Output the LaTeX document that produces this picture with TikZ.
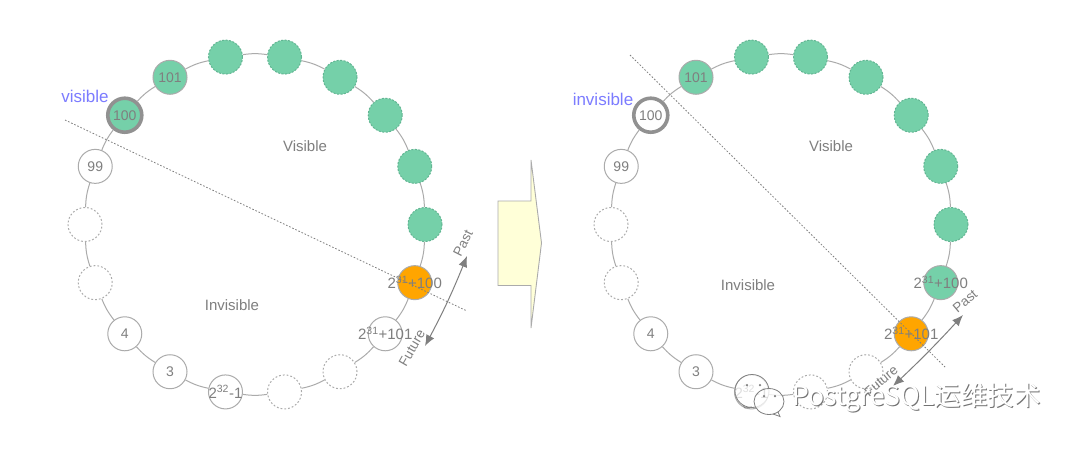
\documentclass[tikz,border=0pt]{standalone}
\usepackage{fontspec}
\setmainfont{Liberation Sans}
\newfontfamily\cjkmark{Noto Sans CJK SC}
\definecolor{ringgray}{HTML}{ABABAB}
\definecolor{txtgray}{HTML}{7F7F7F}
\definecolor{leaf}{HTML}{75D0A9}
\definecolor{leafedge}{HTML}{62B592}
\definecolor{amber}{HTML}{FFA500}
\definecolor{cream}{HTML}{FFFFD8}
\definecolor{violetblue}{HTML}{7C7CFF}
\usetikzlibrary{arrows.meta}
\tikzset{
  x=1pt,y=-1pt,
  base/.style={circle,minimum size=34pt,inner sep=0pt,line width=1pt,font=\fontsize{14}{14}\selectfont,text=txtgray},
  plain/.style={base,draw=ringgray,fill=white},
  ghost/.style={base,draw=ringgray,fill=white,dash pattern=on 1.8pt off 2pt},
  leafsolid/.style={base,draw=ringgray,fill=leaf},
  leafdash/.style={base,draw=leafedge,fill=leaf,dash pattern=on 2pt off 1.5pt},
  leafthick/.style={base,draw=ringgray!85!black,fill=leaf,line width=3.6pt},
  plainthick/.style={base,draw=ringgray!85!black,fill=white,line width=3.6pt},
  hot/.style={base,draw=ringgray,fill=amber},
  ringline/.style={draw=ringgray,line width=1pt},
  bigtext/.style={font=\fontsize{15}{15}\selectfont,text=txtgray},
  wrap/.style={font=\fontsize{15}{15}\selectfont,text=txtgray,inner sep=0pt},
  side/.style={font=\fontsize{17}{17}\selectfont,text=violetblue,inner sep=0pt},
  cutline/.style={draw=txtgray,line width=0.8pt,dash pattern=on 1.6pt off 1.8pt},
  span/.style={draw=txtgray,line width=1pt,{Latex[length=11pt,width=9pt]}-{Latex[length=11pt,width=9pt]}},
  tiny/.style={font=\fontsize{13.5}{13.5}\selectfont,text=txtgray,inner sep=0pt},
  bubble/.style={draw=black!50,line width=0.8pt,fill=white,fill opacity=0.8},
  eye/.style={circle,fill=black!50,minimum size=2.5pt,inner sep=0pt},
  markmain/.style={font=\fontsize{26.5}{26.5}\selectfont\cjkmark,inner sep=0pt,anchor=west},
}
\newcommand{\ringof}[3]{%
  \foreach \i/\st/\txt in {#3}{%
    \pgfmathsetmacro{\ang}{140-20*\i}
    \node[\st] (#1\i) at ({#2+170*cos(\ang)},{224.5-170*sin(\ang)}) {\txt};
  }
  \foreach \i [evaluate=\i as \j using {int(mod(\i+1,18))}] in {0,...,17}{%
    \draw[ringline] (#1\i) to[bend left=8] (#1\j);
  }
}
\begin{document}
\begin{tikzpicture}
\useasboundingbox (0,0) rectangle (1080,448);
\fill[white] (0,0) rectangle (1080,448);

% left ring
\ringof{L}{255}{0/leafthick/100,1/leafsolid/101,2/leafdash/,3/leafdash/,4/leafdash/,5/leafdash/,6/leafdash/,7/leafdash/,8/hot/,9/plain/,10/ghost/,11/ghost/,12/plain/,13/plain/3,14/plain/4,15/ghost/,16/ghost/,17/plain/99}
\node[wrap] (La) at (L8) {2$^{\mathrm{31}}$+100};
\node[wrap] (Lb) at (L9) {2$^{\mathrm{31}}$+101};
\node[wrap] (Lc) at (L12) {2$^{\mathrm{32}}$-1};
\draw[cutline] (65,120) coordinate (Lcut1) -- (467,311) coordinate (Lcut2);
\node[side] (Lvis) at (85,96) {visible};
\node[bigtext] (Lv) at (305,146) {Visible};
\node[bigtext] (Li) at (232,305) {Invisible};
\coordinate (LpA) at (467,256);
\coordinate (LpB) at (425,346);
\draw[span] (LpB) to[bend right=3] (LpA);
\node[tiny,rotate=63] (Lpast) at (463,243) {Past};
\node[tiny,rotate=60] (Lfut) at (412,348) {Future};

% block arrow
\draw[draw=ringgray,line width=0.9pt,fill=cream] (498,201) coordinate (b1) -- (531,201) -- (531,160) -- (541.5,243) -- (531,328) -- (531,285.5) -- (498,285.5) -- cycle;

% right ring
\ringof{R}{781}{0/plainthick/100,1/leafsolid/101,2/leafdash/,3/leafdash/,4/leafdash/,5/leafdash/,6/leafdash/,7/leafdash/,8/leafsolid/,9/hot/,10/ghost/,11/ghost/,12/plain/,13/plain/3,14/plain/4,15/ghost/,16/ghost/,17/plain/99}
\node[wrap] (Ra) at (R8) {2$^{\mathrm{31}}$+100};
\node[wrap] (Rb) at (R9) {2$^{\mathrm{31}}$+101};
\draw[cutline] (630,55) coordinate (Rcut1) -- (945,367) coordinate (Rcut2);
\node[side] (Rvis) at (603,99) {invisible};
\node[bigtext] (Rv) at (831,146) {Visible};
\node[bigtext] (Ri) at (748,285) {Invisible};
\coordinate (RpA) at (963,315);
\coordinate (RpB) at (893,386);
\draw[span] (RpB) to[bend right=2] (RpA);
\node[tiny,rotate=40] (Rpast) at (965,301) {Past};
\node[tiny,rotate=40] (Rfut) at (881,381) {Future};

% watermark
\draw[bubble] (752,391) circle (17 and 16.5);
\draw[bubble] (769,401.5) ellipse (15 and 13);
\node[wrap,opacity=0.25] (Rc) at (R12) {2$^{\mathrm{32}}$-1};
\draw[black!50,line width=0.8pt] (773,414) -- (780,416.5) -- (778,412);
\draw[black!50,line width=0.8pt] (743,405) -- (745,408) -- (752,407);
\node[eye] (e1) at (747,385) {};
\node[eye] (e2) at (760,385) {};
\node[eye] (e3) at (764,396) {};
\node[eye] (e4) at (775,396) {};
\node[markmain,text=black!55] (wmS) at (792.9,399) {PostgreSQL运维技术};
\node[markmain,text=white] (wm) at (792,398) {PostgreSQL运维技术};
\end{tikzpicture}
\end{document}
